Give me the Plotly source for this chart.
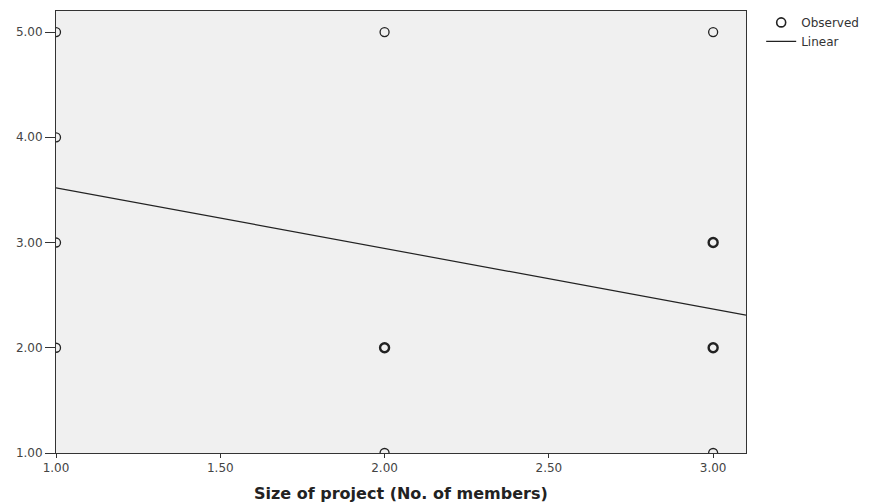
import plotly.graph_objects as go

# Observed points (x = size of project, y = rating); count = number of overlapping cases
obs_x = [1, 1, 1, 1, 2, 2, 2, 3, 3, 3, 3]
obs_y = [5, 4, 3, 2, 5, 2, 1, 5, 3, 2, 1]
obs_count = [1, 1, 1, 1, 1, 3, 1, 1, 3, 3, 1]

# Linear fit line end points
lin_x = [1.0, 3.1]
lin_y = [3.52, 2.31]

x_ticks = [1.0, 1.5, 2.0, 2.5, 3.0]
y_ticks = [1.0, 2.0, 3.0, 4.0, 5.0]

FONT = "DejaVu Sans, Verdana, sans-serif"

fig = go.Figure()
fig.add_trace(go.Scatter(
    x=obs_x, y=obs_y, mode="markers", name="Observed",
    marker=dict(symbol="circle-open", size=9, color="#222",
                line=dict(color="#222", width=[1.3 if c == 1 else 2.4 for c in obs_count])),
))
fig.add_trace(go.Scatter(
    x=lin_x, y=lin_y, mode="lines", name="Linear",
    line=dict(color="#222", width=1.2),
))

axis_common = dict(
    showgrid=False, zeroline=False, showline=True, mirror=True,
    linecolor="#333", linewidth=1, ticks="outside",
    tickcolor="#333", tickformat=".2f",
    tickfont=dict(family=FONT, size=12, color="#444"),
)

fig.update_layout(
    width=872, height=496,
    margin=dict(l=48, r=134, t=3, b=51, autoexpand=False),
    paper_bgcolor="white", plot_bgcolor="#f0f0f0",
    xaxis=dict(range=[1.0, 3.1], tickvals=x_ticks, ticklen=4, **axis_common),
    yaxis=dict(range=[1.0, 5.2], tickvals=y_ticks, ticklen=10, **axis_common),
    legend=dict(x=1.022, y=1.007, xanchor="left", yanchor="top",
                font=dict(family=FONT, size=12, color="#333"),
                bgcolor="rgba(0,0,0,0)", tracegroupgap=0),
    annotations=[dict(
        text="<b>Size of project (No. of members)</b>", xref="paper", yref="paper",
        x=0.5, y=0, yshift=-40, xanchor="center", yanchor="middle", showarrow=False,
        font=dict(family=FONT, size=16, color="#222"),
    )],
)

fig.write_html("out.html")
